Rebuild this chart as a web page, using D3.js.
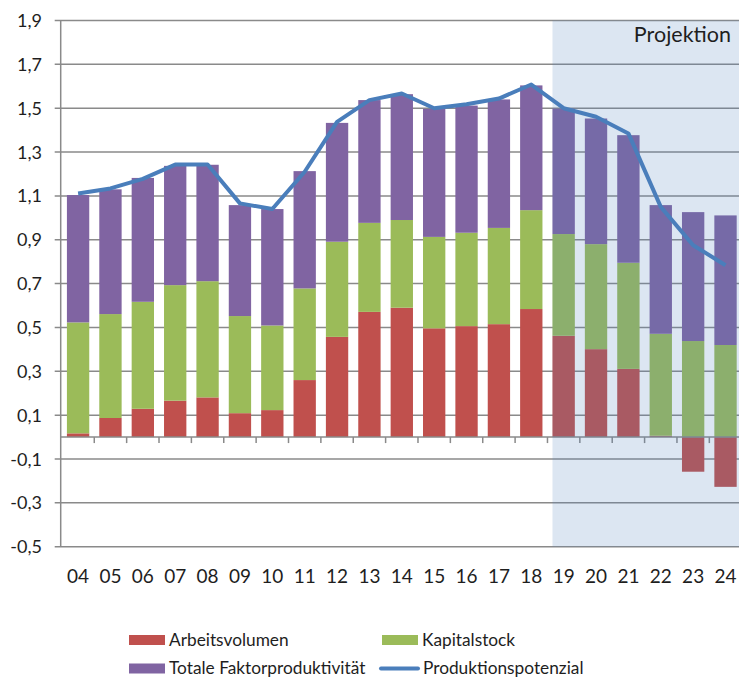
<!DOCTYPE html>
<html>
<head>
<meta charset="utf-8">
<script src="https://cdn.jsdelivr.net/npm/d3@7"></script>
<style>
  body { margin: 0; background: #fff; }
  svg { display: block; font-family: Lato, "Open Sans", sans-serif; }
</style>
</head>
<body>
<script>
const years = ["04", "05", "06", "07", "08", "09", "10", "11", "12", "13", "14",
  "15", "16", "17", "18", "19", "20", "21", "22", "23", "24"];
const arbeitsvolumen = [0.017, 0.087, 0.129, 0.166, 0.181, 0.109, 0.123, 0.26, 0.457, 0.571, 0.59,
  0.496, 0.506, 0.515, 0.584, 0.462, 0.401, 0.311, 0.006, -0.158, -0.227];
const kapitalstock = [0.506, 0.474, 0.488, 0.527, 0.53, 0.443, 0.386, 0.418, 0.434, 0.406, 0.4,
  0.417, 0.426, 0.439, 0.451, 0.464, 0.479, 0.484, 0.465, 0.438, 0.42];
const faktorproduktivitaet = [0.581, 0.569, 0.565, 0.544, 0.531, 0.506, 0.531, 0.535, 0.542, 0.56, 0.574,
  0.584, 0.58, 0.586, 0.569, 0.572, 0.573, 0.582, 0.587, 0.588, 0.591];
const produktionspotenzial = [1.111, 1.134, 1.178, 1.243, 1.243, 1.066, 1.04, 1.21, 1.438, 1.537, 1.567,
  1.5, 1.518, 1.544, 1.608, 1.5, 1.461, 1.385, 1.05, 0.875, 0.784];
const yTicks = [-0.5, -0.3, -0.1, 0.1, 0.3, 0.5, 0.7, 0.9, 1.1, 1.3, 1.5, 1.7, 1.9];
const projectionStart = "19";

const width = 739;
const height = 678;
const axisX = 60.7;
const gridColor = "#8a8a8a";
const textColor = "#1e1e1e";

const keys = ["arbeit", "kapital", "tfp"];
const colors = { arbeit: "#C0504D", kapital: "#9BBB59", tfp: "#8064A2" };

const rows = years.map((y, i) => ({
  year: y,
  arbeit: arbeitsvolumen[i],
  kapital: kapitalstock[i],
  tfp: faktorproduktivitaet[i]
}));

const svg = d3.select("body").append("svg")
  .attr("width", width)
  .attr("height", height);

const x = d3.scaleBand()
  .domain(years)
  .range([61.9, 741.7])
  .paddingInner(0.31)
  .paddingOuter(0.155);

const y = d3.scaleLinear()
  .domain([-0.5, 1.9])
  .range([546.7, 20.5]);

// gridlines (with small ticks left of the axis)
svg.append("g")
  .selectAll("line")
  .data(yTicks)
  .join("line")
  .attr("x1", axisX - 6)
  .attr("x2", width)
  .attr("y1", d => y(d))
  .attr("y2", d => y(d))
  .attr("stroke", gridColor)
  .attr("stroke-width", 1.5);

// stacked bars
const series = d3.stack().keys(keys).offset(d3.stackOffsetDiverging)(rows);

svg.append("g")
  .selectAll("g")
  .data(series)
  .join("g")
  .attr("fill", d => colors[d.key])
  .selectAll("rect")
  .data(d => d)
  .join("rect")
  .attr("x", d => x(d.data.year))
  .attr("width", x.bandwidth())
  .attr("y", d => y(Math.max(d[0], d[1])))
  .attr("height", d => Math.abs(y(d[0]) - y(d[1])));

// category axis at zero
const step = x.step();
svg.append("line")
  .attr("x1", axisX)
  .attr("x2", width)
  .attr("y1", y(0))
  .attr("y2", y(0))
  .attr("stroke", gridColor)
  .attr("stroke-width", 1.5);

svg.append("g")
  .selectAll("line")
  .data(years.slice(1))
  .join("line")
  .attr("x1", d => x(d) - step * x.paddingOuter())
  .attr("x2", d => x(d) - step * x.paddingOuter())
  .attr("y1", y(0))
  .attr("y2", y(0) + 6)
  .attr("stroke", gridColor)
  .attr("stroke-width", 1.5);

// value axis line
svg.append("line")
  .attr("x1", axisX)
  .attr("x2", axisX)
  .attr("y1", y(1.9))
  .attr("y2", y(-0.5))
  .attr("stroke", gridColor)
  .attr("stroke-width", 1.5);

// projection shading (drawn over bars)
svg.append("rect")
  .attr("x", x(projectionStart))
  .attr("y", y(1.9))
  .attr("width", width - x(projectionStart))
  .attr("height", y(-0.5) - y(1.9))
  .attr("fill", "#4F81BD")
  .attr("fill-opacity", 0.2);

// potential line
const line = d3.line()
  .x((d, i) => x(years[i]) + x.bandwidth() / 2)
  .y(d => y(d));

svg.append("path")
  .datum(produktionspotenzial)
  .attr("d", line)
  .attr("fill", "none")
  .attr("stroke", "#4A7EBB")
  .attr("stroke-width", 4)
  .attr("stroke-linejoin", "round");

svg.append("text")
  .attr("x", 731)
  .attr("y", 41.7)
  .attr("text-anchor", "end")
  .attr("font-size", 21.5)
  .attr("fill", textColor)
  .text("Projektion");

// y labels
svg.append("g")
  .selectAll("text")
  .data(yTicks)
  .join("text")
  .attr("x", 42)
  .attr("y", d => y(d) + 6.5)
  .attr("text-anchor", "end")
  .attr("font-size", 18)
  .attr("fill", textColor)
  .text(d => d3.format(".1f")(d).replace(".", ",").replace("−", "-"));

// x labels
svg.append("g")
  .selectAll("text")
  .data(years)
  .join("text")
  .attr("x", d => x(d) + x.bandwidth() / 2)
  .attr("y", 582.7)
  .attr("text-anchor", "middle")
  .attr("font-size", 19)
  .attr("fill", textColor)
  .text(d => d);

// legend
const legendItems = [
  { label: "Arbeitsvolumen", color: colors.arbeit, type: "rect", lx: 129, ly: 640 },
  { label: "Kapitalstock", color: colors.kapital, type: "rect", lx: 382, ly: 640 },
  { label: "Totale Faktorproduktivität", color: colors.tfp, type: "rect", lx: 129, ly: 668.5 },
  { label: "Produktionspotenzial", color: "#4A7EBB", type: "line", lx: 380, ly: 668.5 }
];

const legend = svg.append("g")
  .selectAll("g")
  .data(legendItems)
  .join("g")
  .attr("transform", d => `translate(${d.lx}, ${d.ly})`);

legend.filter(d => d.type === "rect")
  .append("rect")
  .attr("x", 0)
  .attr("y", -5)
  .attr("width", 36)
  .attr("height", 10)
  .attr("fill", d => d.color);

legend.filter(d => d.type === "line")
  .append("line")
  .attr("x1", 1)
  .attr("x2", 38)
  .attr("stroke", d => d.color)
  .attr("stroke-width", 4)
  .attr("stroke-linecap", "round");

legend.append("text")
  .attr("x", d => d.type === "line" ? 43 : 40)
  .attr("y", 5.5)
  .attr("font-size", 17.3)
  .attr("fill", textColor)
  .text(d => d.label);
</script>
</body>
</html>
